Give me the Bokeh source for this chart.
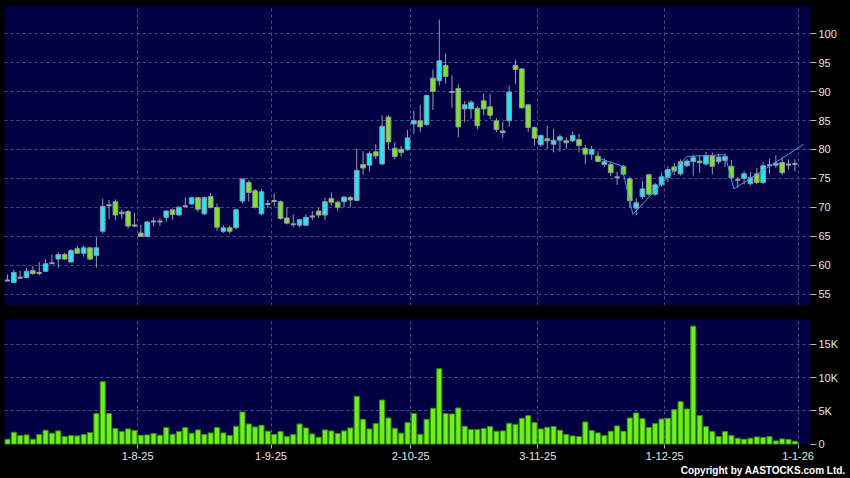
import numpy as np
from bokeh.plotting import figure
from bokeh.layouts import column
from bokeh.models import Range1d, FixedTicker, Title, GlobalInlineStyleSheet
from bokeh.embed import file_html
from bokeh.resources import INLINE

# ---------------- data ----------------
OPEN = [57.4, 57.05, 57.9, 57.9, 59.1, 58.7, 59.0, 60.4, 61.1, 61.9,
        60.6, 62.9, 62.1, 63.05, 61.7, 65.9, 70.4, 71.0, 68.9, 69.3,
        66.9, 65.6, 65.0, 67.6, 67.6, 68.3, 69.6, 68.7, 70.2, 70.6,
        71.7, 68.9, 71.9, 70.0, 65.9, 66.5, 66.5, 71.1, 74.3, 72.9,
        68.9, 70.6, 71.1, 71.0, 68.2, 67.1, 66.95, 66.95, 68.45, 69.4,
        68.7, 71.55, 70.9, 71.0, 71.7, 71.2, 77.4, 77.3, 79.6, 77.5,
        85.6, 80.2, 80.05, 79.95, 84.4, 84.95, 84.3, 92.3, 91.85, 94.5,
        89.9, 90.5, 87.0, 87.0, 87.1, 88.4, 87.35, 84.95, 82.9, 84.95,
        94.5, 93.9, 87.7, 83.8, 80.8, 81.85, 80.9, 81.6, 81.5, 81.5,
        81.7, 80.2, 79.2, 78.85, 77.4, 77.4, 75.2, 77.1, 74.95, 69.9,
        71.85, 75.65, 72.3, 73.9, 75.2, 77.0, 75.8, 77.2, 77.9, 78.0,
        77.5, 78.9, 77.9, 78.1, 77.1, 74.8, 75.0, 74.1, 75.8, 74.3,
        77.3, 77.3, 77.75, 77.4, 77.5]
HIGH = [58.45, 59.3, 59.1, 59.6, 59.9, 60.6, 61.1, 61.9, 62.3, 62.2,
        62.8, 63.4, 63.5, 63.2, 64.9, 71.5, 71.3, 71.4, 69.6, 69.6,
        69.1, 67.0, 67.7, 68.3, 68.2, 69.5, 69.8, 70.2, 71.7, 71.8,
        71.8, 71.9, 72.5, 70.7, 66.9, 66.9, 69.8, 75.0, 74.7, 73.2,
        73.2, 71.3, 72.4, 71.2, 70.0, 68.8, 68.0, 68.8, 69.4, 70.0,
        71.7, 72.6, 71.2, 72.0, 72.0, 80.2, 79.7, 79.7, 80.9, 85.9,
        85.9, 81.3, 80.6, 83.4, 86.7, 87.7, 89.5, 93.8, 102.4, 96.55,
        92.8, 91.2, 88.3, 88.5, 87.5, 89.65, 89.6, 85.4, 84.8, 91.0,
        95.5, 94.0, 87.9, 84.0, 82.6, 84.1, 83.6, 82.6, 82.1, 83.1,
        82.7, 80.8, 80.6, 79.7, 78.5, 77.95, 76.2, 77.3, 75.3, 71.6,
        74.6, 75.8, 74.2, 76.0, 77.1, 77.7, 78.3, 78.4, 79.1, 79.0,
        79.6, 79.5, 79.3, 79.3, 78.2, 75.2, 76.3, 76.1, 76.8, 77.8,
        78.45, 79.0, 78.6, 78.3, 78.3]
LOW = [57.3, 57.0, 57.7, 57.8, 58.4, 58.3, 58.9, 60.3, 59.6, 61.0,
       60.5, 62.0, 61.5, 60.9, 59.6, 65.5, 68.0, 67.8, 68.0, 66.4,
       66.6, 64.9, 64.9, 66.8, 66.8, 67.5, 67.9, 68.6, 70.05, 70.5,
       69.2, 68.7, 69.8, 66.0, 65.6, 65.5, 66.3, 70.7, 71.0, 69.8,
       68.7, 69.9, 70.2, 67.9, 67.1, 66.6, 66.6, 66.8, 67.8, 68.2,
       67.8, 70.3, 69.4, 70.0, 70.0, 71.1, 75.7, 76.2, 78.3, 77.3,
       80.0, 78.3, 78.8, 79.8, 82.7, 83.0, 84.1, 86.8, 91.0, 91.4,
       87.2, 82.1, 84.7, 85.3, 83.5, 85.9, 85.2, 83.0, 82.0, 83.9,
       91.3, 87.0, 83.0, 80.7, 80.5, 80.1, 79.5, 79.6, 80.1, 81.3,
       79.5, 77.5, 78.2, 77.8, 77.0, 75.4, 73.9, 75.5, 70.0, 68.7,
       71.5, 72.0, 72.0, 73.6, 74.4, 75.6, 75.5, 77.0, 75.5, 76.0,
       77.2, 75.7, 77.5, 77.0, 74.5, 73.4, 74.0, 73.8, 74.0, 74.0,
       75.8, 76.8, 75.6, 76.5, 76.25]
CLOSE = [57.4, 58.8, 57.9, 59.0, 58.6, 58.7, 60.3, 60.4, 61.9, 61.1,
         62.6, 62.1, 63.05, 61.1, 63.05, 70.2, 70.4, 68.7, 69.2, 66.8,
         66.9, 65.0, 67.5, 67.6, 67.6, 69.4, 68.8, 70.05, 70.2, 71.7,
         69.7, 71.7, 70.0, 66.6, 66.5, 65.9, 69.6, 74.9, 72.6, 70.0,
         72.7, 70.6, 71.1, 68.1, 67.3, 67.1, 67.9, 68.3, 68.45, 68.7,
         71.0, 70.9, 70.05, 71.8, 71.3, 76.4, 76.8, 79.3, 78.9, 84.0,
         81.3, 78.8, 79.5, 82.0, 85.0, 83.9, 89.3, 90.0, 95.3, 92.6,
         89.9, 83.9, 87.7, 88.15, 84.1, 87.0, 85.9, 83.45, 83.2, 89.9,
         93.8, 87.2, 83.8, 81.95, 82.4, 81.5, 81.6, 82.2, 81.15, 82.4,
         80.7, 79.2, 80.0, 77.95, 77.95, 76.0, 75.2, 75.75, 71.15, 70.8,
         73.2, 72.3, 73.9, 75.3, 76.55, 76.3, 77.9, 78.0, 78.6, 77.7,
         78.9, 77.1, 78.7, 78.8, 75.1, 74.8, 75.8, 75.2, 74.3, 77.2,
         77.3, 77.65, 76.0, 77.4, 77.5]
VOLUME = [750, 1800, 1300, 1400, 750, 1450, 2100, 1650, 2000, 1150,
          1300, 1250, 1450, 1750, 4600, 9400, 4600, 2350, 1900, 2300,
          2050, 1350, 1400, 1600, 1350, 2500, 1500, 1900, 2500, 1650,
          2150, 1450, 1700, 2500, 1700, 1300, 2700, 4850, 3050, 2600,
          2850, 1950, 1450, 1900, 1150, 1450, 3050, 2450, 1550, 1050,
          2150, 2000, 1600, 2000, 2450, 7200, 3750, 2300, 3100, 6650,
          3950, 2400, 1650, 3250, 4600, 1500, 3750, 5400, 11350, 4600,
          4550, 5450, 2700, 2200, 2200, 2350, 2650, 1950, 2000, 3150,
          3000, 3900, 4300, 3250, 2300, 2550, 2650, 2100, 1450, 1250,
          1150, 3350, 2050, 1700, 1300, 1950, 2750, 1950, 3950, 4700,
          3850, 2500, 3100, 3800, 3900, 5200, 6400, 5300, 17750, 4300,
          2650, 1900, 1150, 1900, 1300, 900, 750, 900, 1100, 1000,
          1150, 500, 800, 700, 450]

# pattern line drawn on the price panel (x in candle slots, y in price)
TREND_X = [93.7, 97.2, 99.0, 107.5, 113.5, 114.9, 125.9]
TREND_Y = [78.45, 77.2, 68.8, 78.8, 79.1, 73.2, 80.9]

PRICE_TICKS = [55, 60, 65, 70, 75, 80, 85, 90, 95, 100]
VOL_TICKS = [0, 5000, 10000, 15000]
VOL_LABELS = ["0", "5K", "10K", "15K"]
MONTH_TICKS = [21, 42, 64, 84, 104, 125]
MONTH_LABELS = ["1-8-25", "1-9-25", "2-10-25", "3-11-25", "1-12-25", "1-1-26"]

# ---------------- styling ----------------
NAVY = "#000042"
CYAN = "#22e6f4"
GREEN = "#7be81c"
BODY_LINE = "#8e94aa"
WICK = "#9c9cae"
VOL_FILL = "#6cf01e"
VOL_LINE = "#3a8c0a"
GRID = "#4e4e88"
TREND = "#3d9fe4"
TXT = "#e4e4e4"
FONT = "Liberation Sans"

o = np.array(OPEN); h = np.array(HIGH); l = np.array(LOW); c = np.array(CLOSE)
x = np.arange(len(OPEN)) + 0.5
up = c > o
dn = c < o
dj = c == o

xr = Range1d(0.03, 126.96)


def style_axis(ax):
    ax.axis_line_color = None
    ax.major_tick_line_color = "#b8b8c0"
    ax.major_tick_in = 0
    ax.minor_tick_line_color = None
    ax.major_label_text_color = TXT
    ax.major_label_text_font = FONT
    ax.major_label_text_font_size = "11px"


def style_grid(p):
    for g in (p.xgrid, p.ygrid):
        g.grid_line_color = GRID
        g.grid_line_dash = "3 3"
        g.grid_line_width = 1


p1 = figure(width=850, height=305, x_range=xr, y_range=Range1d(53.10, 104.83),
            x_axis_location=None, y_axis_location="right",
            output_backend="svg", toolbar_location=None,
            min_border_left=4, min_border_top=5, min_border_bottom=0, min_border_right=40,
            background_fill_color=NAVY, border_fill_color="black", outline_line_color=None)
p1.yaxis.ticker = FixedTicker(ticks=PRICE_TICKS)
p1.xgrid.ticker = FixedTicker(ticks=MONTH_TICKS)
p1.ygrid.ticker = FixedTicker(ticks=PRICE_TICKS)
style_axis(p1.yaxis[0])
p1.yaxis.major_tick_out = 6
p1.yaxis.major_label_standoff = 2
style_grid(p1)

p1.segment(x, h, x, l, color=WICK, line_width=1)
p1.vbar(x=x[up], width=0.74, top=c[up], bottom=o[up], fill_color=CYAN, line_color=BODY_LINE, line_width=1)
p1.vbar(x=x[dn], width=0.74, top=o[dn], bottom=c[dn], fill_color=GREEN, line_color=BODY_LINE, line_width=1)
p1.segment(x[dj] - 0.4, c[dj], x[dj] + 0.4, c[dj], color=WICK, line_width=2)
p1.line(TREND_X, TREND_Y, color=TREND, line_width=1)

p2 = figure(width=850, height=173, x_range=xr, y_range=Range1d(-45, 18750),
            x_axis_location="below", y_axis_location="right",
            output_backend="svg", toolbar_location=None,
            min_border_left=4, min_border_top=14, min_border_bottom=34, min_border_right=40,
            background_fill_color=NAVY, border_fill_color="black", outline_line_color=None)
p2.yaxis.ticker = FixedTicker(ticks=VOL_TICKS)
p2.yaxis.major_label_overrides = {t: s for t, s in zip(VOL_TICKS, VOL_LABELS)}
p2.xaxis.ticker = FixedTicker(ticks=MONTH_TICKS)
p2.xaxis.major_label_overrides = {t: s for t, s in zip(MONTH_TICKS, MONTH_LABELS)}
p2.xgrid.ticker = FixedTicker(ticks=MONTH_TICKS)
p2.ygrid.ticker = FixedTicker(ticks=VOL_TICKS[1:])
style_axis(p2.yaxis[0])
style_axis(p2.xaxis[0])
p2.yaxis.major_tick_out = 6
p2.yaxis.major_label_standoff = 2
p2.xaxis.major_tick_out = 4
p2.xaxis.major_label_standoff = 3
style_grid(p2)

p2.vbar(x=x, width=0.8, top=VOLUME, bottom=0, fill_color=VOL_FILL, line_color=VOL_LINE, line_width=1)

p2.add_layout(Title(text="Copyright by AASTOCKS.com Ltd.", align="right", offset=-35, standoff=0,
                    text_color="#ffffff", text_font=FONT, text_font_size="10px",
                    text_font_style="bold"), "below")

layout = column(p1, p2, spacing=0,
                stylesheets=[GlobalInlineStyleSheet(css="body { background-color: #000000; }")])

open("out.html", "w").write(file_html(layout, INLINE))
